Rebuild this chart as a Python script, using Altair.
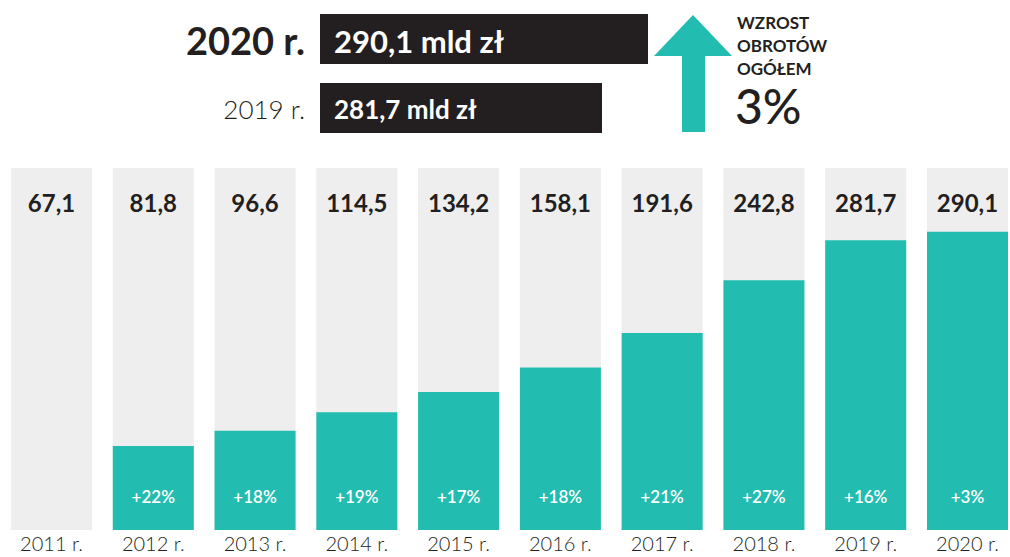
import altair as alt
import pandas as pd

# ---- data ----
years = ["2011 r.", "2012 r.", "2013 r.", "2014 r.", "2015 r.",
         "2016 r.", "2017 r.", "2018 r.", "2019 r.", "2020 r."]
values = [67.1, 81.8, 96.6, 114.5, 134.2, 158.1, 191.6, 242.8, 281.7, 290.1]
growth = [None, 22, 18, 19, 17, 18, 21, 27, 16, 3]

head_years = ["2020 r.", "2019 r."]
head_totals = [290.1, 281.7]
head_growth = 3
head_caption = ["WZROST", "OBROTÓW", "OGÓŁEM"]

Y_MAX = 352

TEAL = "#22bdb0"
GRAY = "#eeeeee"
DARK = "#231f20"
FONT = "Lato"

def pl(v):
    return f"{v:.1f}".replace(".", ",")

df = pd.DataFrame({
    "year": years,
    "value": values,
    "growth": growth,
})
df["vlabel"] = [pl(v) for v in values]
df["glabel"] = [("+" + str(int(g)) + "%") if g is not None and g == g else "" for g in growth]
df["top"] = Y_MAX

x = alt.X("year:N", sort=years,
          scale=alt.Scale(paddingInner=0.204, paddingOuter=0),
          axis=alt.Axis(title=None, domain=False, ticks=False, labelAngle=0,
                        labelFont=FONT, labelFontSize=20, labelFontWeight=300,
                        labelColor=DARK, labelPadding=4))
yscale = alt.Scale(domain=[0, Y_MAX], nice=False)

base = alt.Chart(df)

gray = base.mark_bar(color=GRAY).encode(
    x=x,
    y=alt.Y("top:Q", scale=yscale, axis=None),
)

teal = base.transform_filter("datum.growth != null").mark_bar(color=TEAL).encode(
    x=x,
    y=alt.Y("value:Q", scale=yscale, axis=None),
)

vtext = base.mark_text(font=FONT, fontSize=24, fontWeight="bold", color=DARK,
                       baseline="alphabetic").encode(
    x=x,
    y=alt.value(44),
    text="vlabel:N",
)

gtext = base.transform_filter("datum.growth != null").mark_text(
    font=FONT, fontSize=17, fontWeight=600, color="white", baseline="middle",
    dy=-32).encode(
    x=x,
    y=alt.Y(datum=0, scale=yscale),
    text="glabel:N",
)

def one(t):
    return alt.Chart(pd.DataFrame({"t": [t]}))

# header
h1 = one(head_years[0]).mark_text(font=FONT, fontSize=38, fontWeight="bold", color=DARK,
                                  align="right", baseline="alphabetic").encode(
    x=alt.value(294), y=alt.value(-113), text="t:N")
box1 = one(head_years[0]).mark_rect(color=DARK).encode(
    x=alt.value(309), x2=alt.value(637), y=alt.value(-154), y2=alt.value(-104))
t1 = one(pl(head_totals[0]) + " mld zł").mark_text(
    font=FONT, fontSize=31, fontWeight="bold", color="white",
    align="left", baseline="alphabetic").encode(
    x=alt.value(323), y=alt.value(-115), text="t:N")

h2 = one(head_years[1]).mark_text(font=FONT, fontSize=26, fontWeight=300, color=DARK,
                                  align="right", baseline="alphabetic").encode(
    x=alt.value(294), y=alt.value(-49), text="t:N")
box2 = one(head_years[1]).mark_rect(color=DARK).encode(
    x=alt.value(309), x2=alt.value(591), y=alt.value(-85), y2=alt.value(-35))
t2 = one(pl(head_totals[1]) + " mld zł").mark_text(
    font=FONT, fontSize=26, fontWeight="bold", color="white",
    align="left", baseline="alphabetic").encode(
    x=alt.value(323), y=alt.value(-49), text="t:N")

shaft = one("a").mark_rect(color=TEAL).encode(
    x=alt.value(671), x2=alt.value(694), y=alt.value(-113), y2=alt.value(-36))
head = one("a").mark_point(shape="M -1 0.526 L 0 -0.526 L 1 0.526 Z", filled=True,
                           opacity=1, color=TEAL, size=6084).encode(
    x=alt.value(682), y=alt.value(-132.5))

cap_layers = []
for i, c in enumerate(head_caption):
    cap_layers.append(one(c).mark_text(font=FONT, fontSize=17, fontWeight="bold", color=DARK,
                                       align="left", baseline="alphabetic").encode(
        x=alt.value(726), y=alt.value(-139 + 23 * i), text="t:N"))
pct = one(f"{head_growth}%").mark_text(font=FONT, fontSize=48, fontWeight=500, color=DARK,
                                       align="left", baseline="alphabetic").encode(
    x=alt.value(724), y=alt.value(-44), text="t:N")

chart = alt.layer(gray, teal, vtext, gtext, box1, h1, t1, box2, h2, t2, shaft, head,
                  *cap_layers, pct).properties(
    width=997, height=362,
    autosize=alt.AutoSizeParams(type="none"),
    padding={"left": 11, "top": 168, "right": 2, "bottom": 27},
    background="white",
).configure_view(strokeWidth=0)

chart.save("out.html", embed_options={"renderer": "svg", "actions": False})
